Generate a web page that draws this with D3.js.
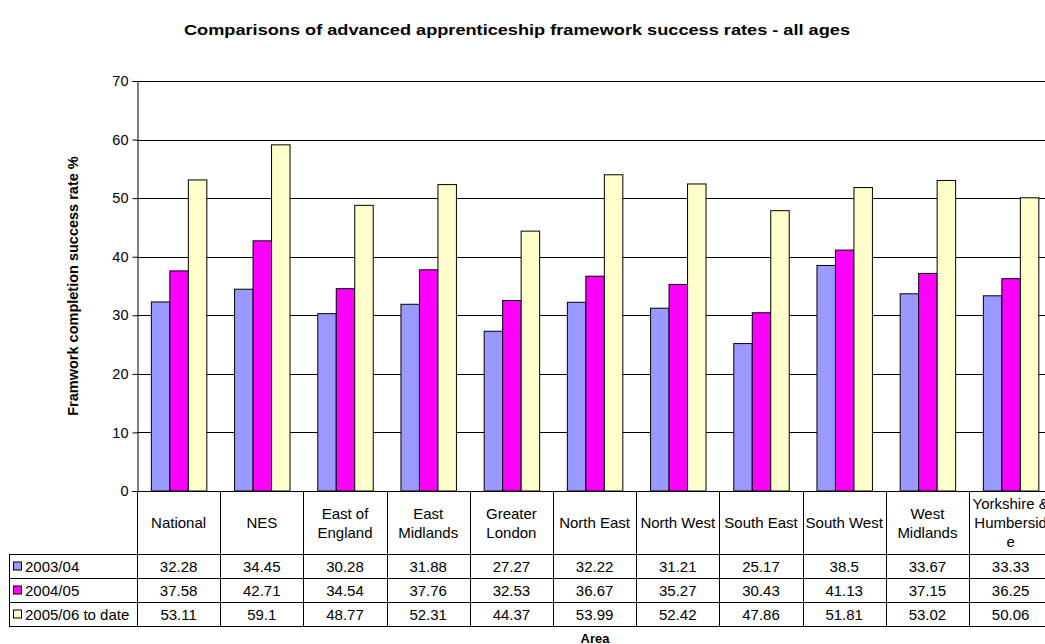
<!DOCTYPE html>
<html><head><meta charset="utf-8">
<script src="https://cdn.jsdelivr.net/npm/d3@7"></script>
<style>body{margin:0;background:#fff;}svg{display:block;font-family:"Liberation Sans",Arial,sans-serif;}</style>
</head><body>
<svg id="c" width="1045" height="644"></svg>
<script>
const categories = ["National","NES","East of England","East Midlands","Greater London","North East","North West","South East","South West","West Midlands","Yorkshire & Humberside"];
const categoryLines = [["National"],["NES"],["East of","England"],["East","Midlands"],["Greater","London"],["North East"],["North West"],["South East"],["South West"],["West","Midlands"],["Yorkshire &","Humbersid","e"]];
const seriesNames = ["2003/04","2004/05","2005/06 to date"];
const seriesColors = ["#9999FF","#FF00FF","#FFFFCC"];
const v2003 = [32.28,34.45,30.28,31.88,27.27,32.22,31.21,25.17,38.5,33.67,33.33];
const v2004 = [37.58,42.71,34.54,37.76,32.53,36.67,35.27,30.43,41.13,37.15,36.25];
const v2005 = [53.11,59.1,48.77,52.31,44.37,53.99,52.42,47.86,51.81,53.02,50.06];
const yTicks = [0,10,20,30,40,50,60,70];
const chartTitle = "Comparisons of advanced apprenticeship framework success rates - all ages";
const yTitle = "Framwork completion success rate %";
const xTitle = "Area";

(function(){
const series = [v2003, v2004, v2005];
const svg = d3.select("#c");

const pLeft = 137, colW = 83.2, pTop = 81, pBottom = 491;
const x0 = d3.scaleBand().domain(categories).range([pLeft, pLeft + colW*categories.length]).padding(0);
const x1 = d3.scaleBand().domain(seriesNames).range([0, x0.bandwidth()]).paddingInner(0).paddingOuter(0.75);
const y = d3.scaleLinear().domain([0,70]).range([pBottom, pTop]);

svg.append("text").attr("x", 517).attr("y", 35).attr("text-anchor","middle")
  .attr("font-weight","bold").attr("font-size", 15.5)
  .attr("textLength", 666).attr("lengthAdjust","spacingAndGlyphs").text(chartTitle);

svg.append("g").selectAll("line").data(yTicks.filter(d=>d>0)).join("line")
  .attr("x1", pLeft).attr("x2", 1045).attr("y1", d=>Math.round(y(d))+0.5).attr("y2", d=>Math.round(y(d))+0.5)
  .attr("stroke","#000").attr("stroke-width",1);

const yAxis = d3.axisLeft(y).tickValues(yTicks).tickSize(5).tickPadding(4);
const ga = svg.append("g").attr("transform",`translate(${pLeft+0.5},0)`).call(yAxis);
ga.select(".domain").attr("stroke","#000");
ga.selectAll(".tick line").attr("stroke","#000");
ga.selectAll(".tick text").attr("font-size",14.5).attr("fill","#000").attr("font-family","Liberation Sans, Arial, sans-serif");

const gBars = svg.append("g");
series.forEach((vals, si) => {
  gBars.selectAll(null).data(vals).join("rect")
    .attr("x", (d,i) => x0(categories[i]) + x1(seriesNames[si]) + 0.5)
    .attr("y", d => y(d))
    .attr("width", x1.bandwidth())
    .attr("height", d => y(0) - y(d))
    .attr("fill", seriesColors[si]).attr("stroke","#000").attr("stroke-width",1);
});

svg.append("line").attr("x1",pLeft).attr("x2",1045).attr("y1",pBottom+0.5).attr("y2",pBottom+0.5).attr("stroke","#000");

const rowY = [491, 554, 578, 602, 626];
const tableRight = pLeft + colW*categories.length;
const gT = svg.append("g");
categories.forEach((c,i) => {
  gT.append("line").attr("x1", Math.round(x0(c))+0.5).attr("x2", Math.round(x0(c))+0.5)
    .attr("y1", rowY[0]).attr("y2", rowY[4]).attr("stroke","#000");
});
gT.append("line").attr("x1", Math.round(tableRight)+0.5).attr("x2", Math.round(tableRight)+0.5)
  .attr("y1", rowY[0]).attr("y2", rowY[4]).attr("stroke","#000");
gT.append("line").attr("x1", 9.5).attr("x2", 9.5).attr("y1", rowY[1]).attr("y2", rowY[4]).attr("stroke","#000");
[1,2,3,4].forEach(r => {
  gT.append("line").attr("x1", 9).attr("x2", tableRight).attr("y1", rowY[r]+0.5).attr("y2", rowY[r]+0.5).attr("stroke","#000");
});
const fs = 15;
categories.forEach((c,i) => {
  const lines = categoryLines[i];
  const cx = x0(c) + colW/2;
  const lh = 19;
  const cy = (rowY[0] + rowY[1]) / 2 + 0.5;
  const startY = cy - (lines.length-1)*lh/2;
  const t = gT.append("text").attr("text-anchor","middle").attr("font-size",fs).attr("fill","#000");
  lines.forEach((ln,k) => {
    t.append("tspan").attr("x", cx).attr("y", startY + k*lh).attr("dy","0.35em").text(ln);
  });
});
series.forEach((vals, si) => {
  const cy = (rowY[si+1] + rowY[si+2]) / 2 + 0.5;
  gT.selectAll(null).data(vals).join("text")
    .attr("x", (d,i) => x0(categories[i]) + colW/2)
    .attr("y", cy).attr("dy","0.35em").attr("text-anchor","middle")
    .attr("font-size",fs).attr("fill","#000").text(d => String(d));
  gT.append("rect").attr("x", 13.5).attr("y", cy - 4.5).attr("width", 8).attr("height", 8)
    .attr("fill", seriesColors[si]).attr("stroke","#000");
  gT.append("text").attr("x", 25).attr("y", cy).attr("dy","0.35em").attr("font-size",fs)
    .attr("fill","#000").text(seriesNames[si]);
});

svg.append("text").attr("transform",`translate(78,${(pTop+pBottom)/2}) rotate(-90)`)
  .attr("text-anchor","middle").attr("font-weight","bold").attr("font-size",14.5).text(yTitle);
svg.append("text").attr("x", 595).attr("y", 642.5).attr("text-anchor","middle")
  .attr("font-weight","bold").attr("font-size",13).text(xTitle);
})();
</script>
</body></html>
